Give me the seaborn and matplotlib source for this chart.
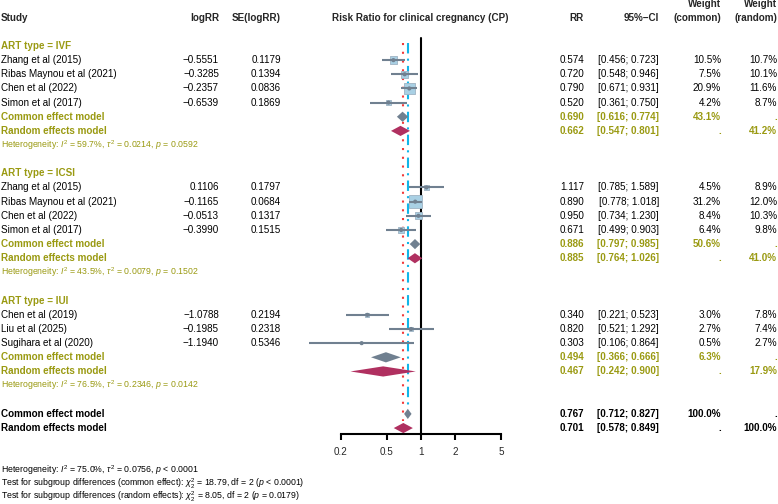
import numpy as np
import pandas as pd
import matplotlib
matplotlib.use('Agg')
import matplotlib.pyplot as plt
import matplotlib.transforms as mtransforms
import seaborn as sns

# ---- data ----
groups = ['IVF', 'ICSI', 'IUI']
study = ['Zhang et al (2015)', 'Ribas Maynou et al (2021)', 'Chen et al (2022)', 'Simon et al (2017)',
         'Zhang et al (2015)', 'Ribas Maynou et al (2021)', 'Chen et al (2022)', 'Simon et al (2017)',
         'Chen et al (2019)', 'Liu et al (2025)', 'Sugihara et al (2020)']
art_type = ['IVF'] * 4 + ['ICSI'] * 4 + ['IUI'] * 3
logrr = [-0.5551, -0.3285, -0.2357, -0.6539, 0.1106, -0.1165, -0.0513, -0.3990, -1.0788, -0.1985, -1.1940]
se_logrr = [0.1179, 0.1394, 0.0836, 0.1869, 0.1797, 0.0684, 0.1317, 0.1515, 0.2194, 0.2318, 0.5346]
rr = [0.574, 0.720, 0.790, 0.520, 1.117, 0.890, 0.950, 0.671, 0.340, 0.820, 0.303]
ci_lo = [0.456, 0.548, 0.671, 0.361, 0.785, 0.778, 0.734, 0.499, 0.221, 0.521, 0.106]
ci_hi = [0.723, 0.946, 0.931, 0.750, 1.589, 1.018, 1.230, 0.903, 0.523, 1.292, 0.864]
w_common = [10.5, 7.5, 20.9, 4.2, 4.5, 31.2, 8.4, 6.4, 3.0, 2.7, 0.5]
w_random = [10.7, 10.1, 11.6, 8.7, 8.9, 12.0, 10.3, 9.8, 7.8, 7.4, 2.7]

sub_ce_rr = [0.690, 0.886, 0.494]
sub_ce_lo = [0.616, 0.797, 0.366]
sub_ce_hi = [0.774, 0.985, 0.666]
sub_ce_w = [43.1, 50.6, 6.3]
sub_re_rr = [0.662, 0.885, 0.467]
sub_re_lo = [0.547, 0.764, 0.242]
sub_re_hi = [0.801, 1.026, 0.900]
sub_re_w = [41.2, 41.0, 17.9]
sub_i2 = ['59.7', '43.5', '76.5']
sub_tau2 = ['0.0214', '0.0079', '0.2346']
sub_p = ['0.0592', '0.1502', '0.0142']

overall_ce = [0.767, 0.712, 0.827]
overall_re = [0.701, 0.578, 0.849]

footer = [r'Heterogeneity: $I^2$ = 75.0%, $\tau^2$ = 0.0756, $p$ < 0.0001',
          r'Test for subgroup differences (common effect): $\chi^2_2$ = 18.79, df = 2 ($p$ < 0.0001)',
          r'Test for subgroup differences (random effects): $\chi^2_2$ = 8.05, df = 2 ($p$ = 0.0179)']

# ---- style ----
sns.set_style('white')
plt.rcParams['font.family'] = ['Liberation Sans', 'DejaVu Sans']
plt.rcParams['mathtext.fontset'] = 'custom'
plt.rcParams['mathtext.rm'] = 'Liberation Sans'
plt.rcParams['mathtext.it'] = 'Liberation Sans:italic'
plt.rcParams['mathtext.bf'] = 'Liberation Sans:bold'

OLIVE = '#9a9a12'
SLATE = '#708090'
MAROON = '#b03060'
FS = 7.1
FS_HET = 6.3
MINUS = '\u2212'

# ---- row layout ----
rows = []
sub_rows = []
r = 2
for g in groups:
    n = art_type.count(g)
    lab = r
    st = list(range(r + 1, r + 1 + n))
    ce, re_, het = r + 1 + n, r + 2 + n, r + 3 + n
    rows += st
    sub_rows.append((lab, ce, re_, het))
    r = het + 2
ov_ce_row, ov_re_row = r, r + 1
axis_row = ov_re_row + 0.39

df = pd.DataFrame({'study': study, 'type': art_type, 'logrr': logrr, 'se': se_logrr, 'rr': rr,
                   'lo': ci_lo, 'hi': ci_hi, 'wc': w_common, 'wr': w_random, 'row': rows})

fig = plt.figure(figsize=(7.78, 5.04), dpi=100)
W, H = 778, 504
y0, step = 17.7, 14.15
ax = fig.add_axes([306.5 / W, 0, 229 / W, 1])
ax.set_xscale('log')
ax.set_xlim(0.1, 10)
ax.set_ylim((H - y0) / step, -y0 / step)

# squares (area ~ common weight), CI lines, centre points
sns.scatterplot(data=df, x='rr', y='row', size='wc', sizes=(0, 90), size_norm=(0, 31.2),
                marker='s', color='#a9d0e4', edgecolor='#9fb3c3', linewidth=0.6,
                legend=False, ax=ax, zorder=3, clip_on=False)
ax.hlines(df['row'], df['lo'], df['hi'], color=SLATE, lw=1.5, zorder=4, clip_on=False)
sns.scatterplot(data=df, x='rr', y='row', s=9, color=SLATE, edgecolor='none',
                legend=False, ax=ax, zorder=5, clip_on=False)

# reference lines
ax.plot([1, 1], [1.41, axis_row], color='black', lw=1.5, zorder=2)
ax.plot([overall_ce[0]] * 2, [1.8, ov_ce_row - 0.5], color='#12b5e8', lw=1.5,
        ls=(0, (5, 2.5, 1, 2.5)), zorder=1)
ax.plot([overall_re[0]] * 2, [1.8, ov_re_row - 0.5], color='#f23a3a', lw=1.5,
        ls=(0, (1, 3.2)), zorder=1)


def diamond(est, lo, hi, row, color):
    h = 0.36
    ax.fill([lo, est, hi, est], [row, row - h, row, row + h], color=color, lw=0, zorder=6,
            clip_on=False)


for i in range(len(groups)):
    lab, ce, re_, het = sub_rows[i]
    diamond(sub_ce_rr[i], sub_ce_lo[i], sub_ce_hi[i], ce, SLATE)
    diamond(sub_re_rr[i], sub_re_lo[i], sub_re_hi[i], re_, MAROON)
diamond(overall_ce[0], overall_ce[1], overall_ce[2], ov_ce_row, SLATE)
diamond(overall_re[0], overall_re[1], overall_re[2], ov_re_row, MAROON)

# x axis
for s in ['top', 'left', 'right']:
    ax.spines[s].set_visible(False)
ax.spines['bottom'].set_position(('data', axis_row))
ax.spines['bottom'].set_bounds(0.2, 5)
ax.spines['bottom'].set_linewidth(1.5)
ax.spines['bottom'].set_color('black')
ax.set_xticks([0.2, 0.5, 1, 2, 5])
ax.set_xticklabels(['0.2', '0.5', '1', '2', '5'])
ax.xaxis.set_minor_locator(matplotlib.ticker.NullLocator())
ax.tick_params(axis='x', direction='out', length=4.3, width=1.5, pad=5.5, labelsize=FS,
               bottom=True, color='black')
ax.set_yticks([])
ax.set_xlabel('')
ax.set_ylabel('')
ax.patch.set_visible(False)

# ---- text columns ----
tr = mtransforms.blended_transform_factory(fig.transFigure, ax.transData)
col = {'study': 1, 'logrr': 219, 'se': 281, 'rr': 584, 'ci': 659, 'wc': 721, 'wr': 777}


def txt(key, row, s, ha='right', **kw):
    kw.setdefault('fontsize', FS)
    ax.text(col[key] / W, row, s, transform=tr, ha=ha, va='center', clip_on=False, **kw)


def ci_str(lo, hi):
    return f'[{lo:.3f}; {hi:.3f}]'


def num(v):
    return f'{v:.4f}'.replace('-', MINUS)


bold = dict(fontweight='bold')
txt('study', 0, 'Study', ha='left', **bold)
txt('logrr', 0, 'logRR', **bold)
txt('se', 0, 'SE(logRR)', **bold)
ax.text(420 / W, 0, 'Risk Ratio for clinical cregnancy (CP)', transform=tr, ha='center',
        va='center', fontsize=FS, fontweight='bold')
txt('rr', 0, 'RR', **bold)
txt('ci', 0, f'95%{MINUS}CI', **bold)
txt('wc', -0.95, 'Weight', **bold)
txt('wc', 0, '(common)', **bold)
txt('wr', -0.95, 'Weight', **bold)
txt('wr', 0, '(random)', **bold)

for _, d in df.iterrows():
    txt('study', d['row'], d['study'], ha='left', color='black')
    txt('logrr', d['row'], num(d['logrr']), color='black')
    txt('se', d['row'], num(d['se']), color='black')
    txt('rr', d['row'], f"{d['rr']:.3f}", color='black')
    txt('ci', d['row'], ci_str(d['lo'], d['hi']), color='black')
    txt('wc', d['row'], f"{d['wc']:.1f}%", color='black')
    txt('wr', d['row'], f"{d['wr']:.1f}%", color='black')

ob = dict(fontweight='bold', color=OLIVE)
for i, g in enumerate(groups):
    lab, ce, re_, het = sub_rows[i]
    txt('study', lab, f'ART type = {g}', ha='left', **ob)
    txt('study', ce, 'Common effect model', ha='left', **ob)
    txt('rr', ce, f'{sub_ce_rr[i]:.3f}', **ob)
    txt('ci', ce, ci_str(sub_ce_lo[i], sub_ce_hi[i]), **ob)
    txt('wc', ce, f'{sub_ce_w[i]:.1f}%', **ob)
    txt('wr', ce, '.', **ob)
    txt('study', re_, 'Random effects model', ha='left', **ob)
    txt('rr', re_, f'{sub_re_rr[i]:.3f}', **ob)
    txt('ci', re_, ci_str(sub_re_lo[i], sub_re_hi[i]), **ob)
    txt('wc', re_, '.', **ob)
    txt('wr', re_, f'{sub_re_w[i]:.1f}%', **ob)
    txt('study', het, rf'Heterogeneity: $I^2$ = {sub_i2[i]}%, $\tau^2$ = {sub_tau2[i]}, $p$ = {sub_p[i]}',
        ha='left', color=OLIVE, fontsize=FS_HET)

kb = dict(fontweight='bold', color='black')
txt('study', ov_ce_row, 'Common effect model', ha='left', **kb)
txt('rr', ov_ce_row, f'{overall_ce[0]:.3f}', **kb)
txt('ci', ov_ce_row, ci_str(overall_ce[1], overall_ce[2]), **kb)
txt('wc', ov_ce_row, '100.0%', **kb)
txt('wr', ov_ce_row, '.', **kb)
txt('study', ov_re_row, 'Random effects model', ha='left', **kb)
txt('rr', ov_re_row, f'{overall_re[0]:.3f}', **kb)
txt('ci', ov_re_row, ci_str(overall_re[1], overall_re[2]), **kb)
txt('wc', ov_re_row, '.', **kb)
txt('wr', ov_re_row, '100.0%', **kb)

for k, line in enumerate(footer):
    txt('study', ov_re_row + 3.0 + 0.95 * k, line, ha='left', color='black', fontsize=FS_HET)

fig.savefig('out.png', dpi=100)
